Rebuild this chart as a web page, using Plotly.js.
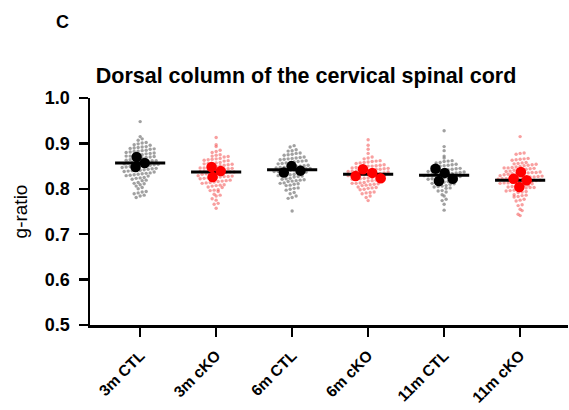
<!DOCTYPE html>
<html>
<head>
<meta charset="utf-8">
<script src="https://cdn.plot.ly/plotly-3.0.1.min.js"></script>
<style>html,body{margin:0;padding:0;background:#fff;}#chart{width:569px;height:410px;}</style>
</head>
<body>
<div id="chart"></div>
<script>
const categories = ["3m CTL", "3m cKO", "6m CTL", "6m cKO", "11m CTL", "11m cKO"];

const g3mCTL = [0.948,
 0.915,0.910,0.907,
 0.902,0.899,0.897,0.901,0.896,
 0.893,0.891,0.889,0.888,0.892,0.887,0.890,
 0.884,0.882,0.880,0.879,0.883,0.881,0.878,0.885,0.877,
 0.874,0.872,0.871,0.869,0.873,0.870,0.868,0.875,0.867,0.872,
 0.864,0.862,0.861,0.859,0.863,0.860,0.858,0.865,0.857,0.862,0.860,
 0.854,0.852,0.851,0.849,0.853,0.850,0.848,0.855,0.847,0.852,0.850,
 0.844,0.842,0.841,0.839,0.843,0.840,0.838,0.845,0.837,0.841,
 0.834,0.832,0.830,0.828,0.833,0.829,0.835,0.831,
 0.824,0.821,0.819,0.823,0.818,0.825,
 0.814,0.811,0.809,0.812,
 0.803,0.800,0.806,
 0.794,0.791,0.789,0.793,
 0.784,0.781,0.786];

const g3mCKO = [0.913,
 0.897,0.893,
 0.885,0.882,0.880,
 0.874,0.872,0.870,0.875,0.871,
 0.866,0.864,0.862,0.865,0.861,0.867,0.863,
 0.857,0.855,0.853,0.856,0.852,0.858,0.854,0.851,0.856,
 0.847,0.845,0.843,0.846,0.842,0.848,0.844,0.841,0.846,0.843,0.849,
 0.838,0.836,0.834,0.837,0.833,0.839,0.835,0.832,0.837,0.834,0.840,0.836,
 0.828,0.826,0.824,0.827,0.823,0.829,0.825,0.822,0.827,0.824,
 0.818,0.816,0.814,0.817,0.813,0.819,0.815,0.812,
 0.808,0.806,0.804,0.807,0.803,0.809,
 0.798,0.796,0.794,0.797,
 0.788,0.786,0.784,
 0.778,0.775,
 0.768,0.766,
 0.757];

const g6mCTL = [0.895,0.892,
 0.886,0.883,0.884,
 0.879,0.876,0.874,0.878,0.875,
 0.869,0.867,0.865,0.868,0.864,0.870,0.866,
 0.861,0.859,0.857,0.860,0.856,0.862,0.858,0.855,
 0.851,0.849,0.847,0.850,0.846,0.852,0.848,0.845,0.850,0.847,
 0.842,0.840,0.838,0.841,0.837,0.843,0.839,0.836,0.841,0.838,0.844,
 0.832,0.830,0.828,0.831,0.827,0.833,0.829,0.826,0.830,
 0.822,0.820,0.818,0.821,0.817,0.823,0.819,0.816,
 0.812,0.810,0.808,0.811,0.807,0.813,
 0.802,0.799,0.797,0.801,
 0.792,0.789,
 0.784,0.781,0.779,
 0.751];

const g6mCKO = [0.908,
 0.896,0.887,0.878,
 0.868,0.866,0.870,
 0.861,0.859,0.857,0.860,0.858,0.862,0.856,
 0.852,0.850,0.848,0.851,0.847,0.853,0.849,0.846,0.850,
 0.843,0.841,0.839,0.842,0.838,0.844,0.840,0.837,0.841,0.839,0.845,0.843,
 0.833,0.831,0.829,0.832,0.828,0.834,0.830,0.827,0.831,0.829,0.835,0.833,0.828,
 0.823,0.821,0.819,0.822,0.818,0.824,0.820,0.817,0.821,0.819,0.825,
 0.813,0.811,0.809,0.812,0.808,0.814,0.810,0.807,0.812,
 0.803,0.801,0.799,0.802,0.798,0.804,
 0.793,0.791,0.789,0.792,
 0.784,0.781,
 0.774];

const g11mCTL = [0.928,
 0.893,0.884,
 0.872,0.868,
 0.862,0.860,0.858,0.861,0.857,
 0.853,0.851,0.849,0.852,0.848,0.854,0.850,
 0.844,0.842,0.840,0.843,0.839,0.845,0.841,0.838,0.842,
 0.835,0.833,0.831,0.834,0.830,0.836,0.832,0.829,0.833,0.831,0.837,
 0.826,0.824,0.822,0.825,0.821,0.827,0.823,0.820,0.824,0.822,
 0.816,0.814,0.812,0.815,0.811,0.817,0.813,0.810,
 0.806,0.804,0.802,0.805,0.801,0.807,
 0.796,0.793,0.795,
 0.787,0.784,
 0.777,0.774,
 0.766,
 0.753];

const g11mCKO = [0.915,
 0.878,0.876,0.879,
 0.867,0.865,0.863,0.866,0.864,
 0.857,0.855,0.853,0.856,0.852,0.858,0.854,0.851,
 0.847,0.845,0.843,0.846,0.842,0.848,0.844,0.841,0.846,0.843,0.849,
 0.837,0.835,0.833,0.836,0.832,0.838,0.834,0.831,0.836,0.833,0.839,0.835,
 0.827,0.825,0.823,0.826,0.822,0.828,0.824,0.821,0.826,0.823,0.829,0.825,0.822,
 0.817,0.815,0.813,0.816,0.812,0.818,0.814,0.811,0.816,0.813,0.819,0.815,
 0.807,0.805,0.803,0.806,0.802,0.808,0.804,0.801,0.806,0.803,
 0.797,0.795,0.793,0.796,0.792,0.798,0.794,
 0.787,0.785,0.783,0.786,0.782,
 0.777,0.775,0.773,
 0.765,0.763,
 0.755,0.752,
 0.744,0.741];

const animalMeans = [
  [0.857, 0.870, 0.848],
  [0.839, 0.848, 0.826],
  [0.850, 0.836, 0.840],
  [0.835, 0.843, 0.823, 0.828],
  [0.835, 0.844, 0.817, 0.822],
  [0.837, 0.822, 0.819, 0.804]
];

const groupMeans = [0.857, 0.837, 0.842, 0.832, 0.830, 0.819];

const groups = [g3mCTL, g3mCKO, g6mCTL, g6mCKO, g11mCTL, g11mCKO];
const isCKO = [false, true, false, true, false, true];

// ---- layout helpers (pixel scale of the plot area) ----
const PX_PER_Y = 227 / 0.5;
const PX_PER_X = 478 / 6.29;

// Prism-like row swarm for the individual measurements
function rowSwarm(vals, binH, dxPx) {
  const rows = {};
  vals.forEach(v => {
    const k = Math.round(v / binH);
    (rows[k] = rows[k] || []).push(v);
  });
  const xs = [], ys = [];
  Object.keys(rows).forEach(k => {
    const r = rows[k].slice().sort();
    const n = r.length;
    r.forEach((v, j) => {
      xs.push(((j - (n - 1) / 2) * dxPx) / PX_PER_X);
      ys.push(v);
    });
  });
  return {xs, ys};
}

// beeswarm (data order) for the large animal-mean dots, centred afterwards
function beeSwarm(vals, diamPx) {
  const placed = [];
  vals.forEach(v => {
    const cands = [0];
    placed.forEach(p => {
      const dy = (v - p.v) * PX_PER_Y;
      if (Math.abs(dy) < diamPx) {
        const d = Math.sqrt(diamPx * diamPx - dy * dy) + 0.01;
        cands.push(p.x + d, p.x - d);
      }
    });
    cands.sort((a, b) => (Math.abs(a) - Math.abs(b)) || (a - b));
    let best = 0;
    for (const c of cands) {
      const ok = placed.every(p => {
        const dy = (v - p.v) * PX_PER_Y, dx = c - p.x;
        return dx * dx + dy * dy >= diamPx * diamPx - 0.5;
      });
      if (ok) { best = c; break; }
    }
    placed.push({v, x: best});
  });
  const xs = placed.map(p => p.x);
  const shift = -(Math.min(...xs) + Math.max(...xs)) / 2;
  return xs.map(x => (x + shift) / PX_PER_X);
}

const traces = [];
groups.forEach((vals, gi) => {
  const s = rowSwarm(vals, 0.0085, 4.0);
  traces.push({
    type: 'scatter', mode: 'markers',
    x: s.xs.map(o => gi + o), y: s.ys,
    marker: {size: 3.4, color: isCKO[gi] ? 'rgba(242,80,80,0.55)' : 'rgba(120,120,120,0.7)'},
    hoverinfo: 'y', showlegend: false
  });
});
groupMeans.forEach((m, gi) => {
  traces.push({
    type: 'scatter', mode: 'lines',
    x: [gi - 0.33, gi + 0.33], y: [m, m],
    line: {color: '#000', width: 3},
    hoverinfo: 'y', showlegend: false
  });
});
animalMeans.forEach((vals, gi) => {
  const offs = beeSwarm(vals, 10);
  traces.push({
    type: 'scatter', mode: 'markers',
    x: offs.map(o => gi + o), y: vals,
    marker: {size: 10.5, color: isCKO[gi] ? '#ff0000' : '#000000'},
    hoverinfo: 'y', showlegend: false
  });
});

const FAM = 'Liberation Sans, Arial, sans-serif';

const layout = {
  width: 569, height: 410,
  margin: {l: 90, r: 1, t: 98, b: 85},
  paper_bgcolor: '#fff', plot_bgcolor: '#fff',
  showlegend: false,
  title: {
    text: 'Dorsal column of the cervical spinal cord',
    font: {family: FAM, size: 21.5, color: '#000', weight: 'bold'},
    xref: 'container', x: 306 / 569, xanchor: 'center',
    yref: 'container', y: 1 - 75 / 410, yanchor: 'middle'
  },
  xaxis: {
    range: [-0.66, 5.63],
    tickmode: 'array', tickvals: categories.map((c, i) => i), ticktext: categories,
    tickangle: -45, tickfont: {family: FAM, size: 15.5, color: '#000', weight: 'bold'},
    ticks: 'outside', ticklen: 9, tickwidth: 2.5, tickcolor: '#000',
    showline: true, linecolor: '#000', linewidth: 2.5,
    showgrid: false, zeroline: false, ticklabelstandoff: 4
  },
  yaxis: {
    range: [0.5, 1.0],
    tickvals: [0.5, 0.6, 0.7, 0.8, 0.9, 1.0],
    ticktext: ['0.5', '0.6', '0.7', '0.8', '0.9', '1.0'],
    tickfont: {family: FAM, size: 18, color: '#000', weight: 'bold'},
    ticks: 'outside', ticklen: 9, tickwidth: 2.5, tickcolor: '#000',
    showline: true, linecolor: '#000', linewidth: 2.5,
    showgrid: false, zeroline: false, ticklabelstandoff: 5,
    title: {text: 'g-ratio', font: {family: FAM, size: 19, color: '#000'}, standoff: 12}
  },
  annotations: [{
    text: 'C', xref: 'paper', yref: 'paper',
    x: (62 - 90) / 478, y: (325 - 22) / 227,
    xanchor: 'center', yanchor: 'middle', showarrow: false,
    font: {family: FAM, size: 18, color: '#000', weight: 'bold'}
  }]
};

Plotly.newPlot('chart', traces, layout, {displayModeBar: false, staticPlot: true});
</script>
</body>
</html>
